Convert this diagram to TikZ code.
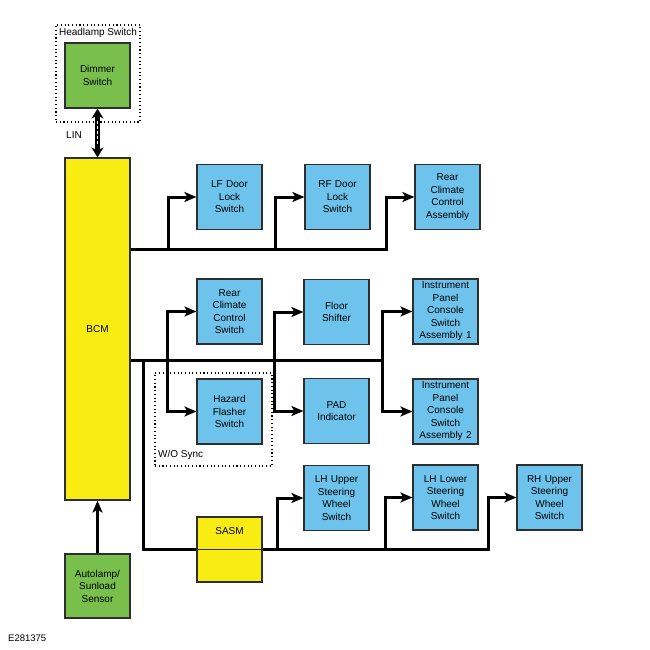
\documentclass[tikz,border=0pt]{standalone}
\usepackage{fontspec}
\setmainfont{Liberation Sans}
\usetikzlibrary{arrows.meta,positioning}
\definecolor{modblue}{HTML}{6DC3EC}
\definecolor{modgreen}{HTML}{78C04B}
\definecolor{modyellow}{HTML}{F8EC13}
\definecolor{modedge}{HTML}{2E2E2E}
\begin{document}
\begin{tikzpicture}[x=1pt,y=-1pt,
  every node/.style={font=\fontsize{10}{12.5}\selectfont, align=center},
  module/.style={draw=modedge, line width=1.2pt, minimum width=65pt, minimum height=65pt, inner sep=0pt, text width=63pt},
  switch/.style={module, fill=modblue},
  sensor/.style={module, fill=modgreen},
  ecu/.style={module, fill=modyellow},
  group/.style={draw, line width=1.1pt, dash pattern=on 1.1pt off 2.6pt, inner sep=0pt},
  bus/.style={line width=3pt},
  feed/.style={bus, -{Stealth[length=12pt,width=10pt,inset=3pt]}}]
\useasboundingbox (0,0) rectangle (650,650);

\node[group, minimum width=84pt, minimum height=97pt] (headlamp) at (98,73.5) {};
\node (headlamptxt) at (98,33) {Headlamp Switch};
\node[group, minimum width=117pt, minimum height=93pt] (wosync) at (213.5,419.5) {};
\node[anchor=west, inner sep=0pt] (wosynctxt) at (158,455) {W/O Sync};

\node[sensor] (dimmer) at (97.5,75.5) {Dimmer\\Switch};
\node[ecu, minimum height=342pt] (bcm) at (97.5,329) {BCM};
\node[sensor, minimum height=64pt] (autolamp) at (97.5,586) {Autolamp/\\Sunload\\Sensor};

\node[switch] (lfdoor) at (229.5,197) {LF Door\\Lock\\Switch};
\node[switch] (rfdoor) at (337.5,197) {RF Door\\Lock\\Switch};
\node[switch] (rcassy) at (447.5,197) {Rear\\Climate\\Control\\Assembly};

\node[switch] (rcswitch) at (229.5,311.5) {Rear\\Climate\\Control\\Switch};
\node[switch] (hazard) at (229.5,411.5) {Hazard\\Flasher\\Switch};
\node[switch] (floor) at (336.5,312) {Floor\\Shifter};
\node[switch] (pad) at (336.5,411) {PAD\\Indicator};
\node[switch] (ipcone) at (445.5,311.5) {Instrument\\Panel\\Console\\Switch\\Assembly 1};
\node[switch] (ipctwo) at (445.5,411.5) {Instrument\\Panel\\Console\\Switch\\Assembly 2};

\node[switch] (lhupper) at (336.5,498) {LH Upper\\Steering\\Wheel\\Switch};
\node[switch] (lhlower) at (445.5,497.5) {LH Lower\\Steering\\Wheel\\Switch};
\node[switch] (rhupper) at (549.5,497.5) {RH Upper\\Steering\\Wheel\\Switch};

\node (lin) at (74,135) {LIN};
\draw[line width=5pt, {Stealth[length=10pt,width=12pt]}-{Stealth[length=10pt,width=12pt]}] (dimmer) -- (bcm);
\draw[white, line width=1.8pt, dash pattern=on 3pt off 2pt, shorten <=12pt, shorten >=12pt] (dimmer) -- (bcm);
\draw[feed] (autolamp) -- (bcm);

\coordinate (lf) at (168,249);
\coordinate (rf) at (275,249);
\coordinate (rca) at (386,249);
\draw[feed] (bcm.east |- lf) -- (rca) |- (rcassy);
\draw[feed] (lf) |- (lfdoor);
\draw[feed] (rf) |- (rfdoor);

\coordinate (ka) at (167,360);
\coordinate (kb) at (274,360);
\coordinate (kc) at (382,360);
\draw[bus] (bcm.east |- ka) -- (kc);
\draw[feed] (ka) |- (rcswitch);
\draw[feed] (ka) |- (hazard);
\draw[feed] (kb) |- (floor);
\draw[feed] (kb) |- (pad);
\draw[feed] (kc) |- (ipcone);
\draw[feed] (kc) |- (ipctwo);

\coordinate (s0) at (143,360);
\coordinate (ma) at (277,549);
\coordinate (mb) at (385,549);
\coordinate (mc) at (488,549);
\draw[feed] (s0) |- (mc) |- (rhupper);
\draw[feed] (ma) |- (lhupper);
\draw[feed] (mb) |- (lhlower);

\node[ecu] (sasm) at (229.5,549.5) {};
\node[below=11pt of sasm.north, inner sep=0pt] (sasmtxt) {SASM};
\draw[draw=modedge, line width=1pt] (sasm.west) -- (sasm.east);

\node[anchor=west, inner sep=0pt, font=\fontsize{9.5}{11}\selectfont] (figid) at (8,638) {E281375};
\end{tikzpicture}
\end{document}
